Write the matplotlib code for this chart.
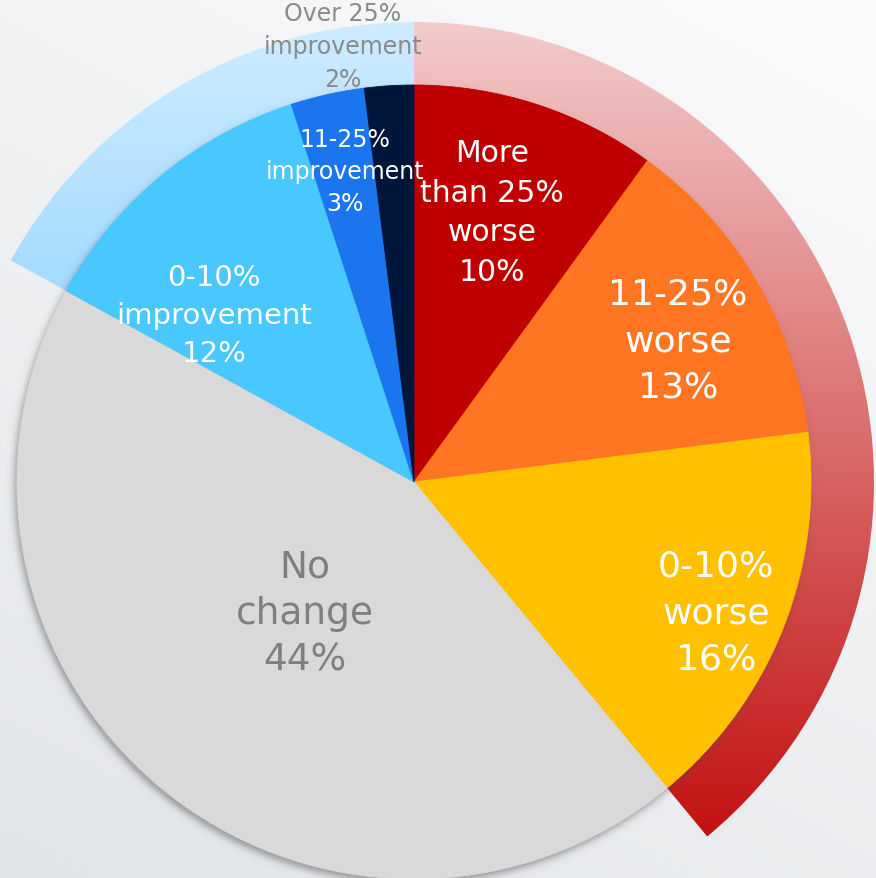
import numpy as np
import matplotlib
matplotlib.use("Agg")
import matplotlib.pyplot as plt
from matplotlib.patches import Wedge
from matplotlib.colors import LinearSegmentedColormap, to_rgb

# ---------- Data ----------
categories = [
    "More\nthan 25%\nworse",
    "11-25%\nworse",
    "0-10%\nworse",
    "No\nchange",
    "0-10%\nimprovement",
    "11-25%\nimprovement",
    "Over 25%\nimprovement",
]
shares = [10, 13, 16, 44, 12, 3, 2]
slice_colors = ["#C00000", "#FF7521", "#FFC000", "#D9D9D9",
                "#49C7FF", "#1A75EE", "#00153A"]
worse_idx = [0, 1, 2]
improve_idx = [4, 5, 6]

# ---------- Layout (pixel coordinates, y up) ----------
W, H = 876, 879
CX, CY = 414, H - 483
R_PIE = 397
R_RING = 460

fig = plt.figure(figsize=(W / 100, H / 100), dpi=100)
ax = fig.add_axes([0, 0, 1, 1])

# background wash
yy, xx = np.mgrid[0:H, 0:W]
t = 0.35 * (1 - xx / W) + 0.65 * (yy / H)
t = np.clip(t, 0, 1)[..., None]
c_top = np.array(to_rgb("#FBFBFC"))
c_bot = np.array(to_rgb("#E2E5E8"))
bg = c_top * (1 - t) + c_bot * t
ax.imshow(bg, extent=(0, W, 0, H), origin="upper", zorder=0)


def gradient_wedge(theta1, theta2, c1, c2, y1, y2):
    # wedge filled with a vertical gradient from c1 (at y1) to c2 (at y2),
    # the image spans the whole height so the clip never runs short
    w = Wedge((CX, CY), R_RING, theta1, theta2, facecolor="none",
              edgecolor="none")
    ax.add_patch(w)
    cmap = LinearSegmentedColormap.from_list("g", [c1, c2])
    rows = np.arange(H)
    grad = np.clip((rows - y1) / (y2 - y1), 0, 1)[:, None]
    im = ax.imshow(grad, cmap=cmap, aspect="auto", origin="upper",
                   extent=(0, W, 0, H), zorder=1, vmin=0, vmax=1)
    im.set_clip_path(w)


total = float(sum(shares))
worse_span = 360 * sum(shares[i] for i in worse_idx) / total
improve_span = 360 * sum(shares[i] for i in improve_idx) / total
gradient_wedge(90 - worse_span, 90, "#F3CCCC", "#C31010", 18, 842)
gradient_wedge(90, 90 + improve_span, "#CFECFF", "#A6DCFF", 18, 270)

# soft drop shadow under the pie
d = np.hypot(xx - (CX - 3), (H - yy) - (CY - 4))
alpha = 0.5 / (1 + np.exp((d - R_PIE) / 2.2))
shadow = np.zeros((H, W, 4))
shadow[..., :3] = 0.3
shadow[..., 3] = alpha
ax.imshow(shadow, extent=(0, W, 0, H), origin="upper", zorder=2)

wedges, _ = ax.pie(shares, colors=slice_colors, startangle=90,
                   counterclock=False, center=(CX, CY), radius=R_PIE,
                   wedgeprops=dict(linewidth=0.6))
for w, c in zip(wedges, slice_colors):
    w.set_edgecolor(c)
    w.set_zorder(3)

# ---------- Labels ----------
label_pos = [(492, 213), (678, 341), (716, 613), (305, 614),
             (214, 316), (345, 172), (343, 47)]
label_size = [21.5, 26, 26, 27, 21, 17, 17]
label_spacing = [1.47, 1.45, 1.45, 1.38, 1.46, 1.42, 1.47]
label_color = ["white", "white", "white", "#7F7F7F",
               "white", "white", "#8A8A8A"]

for cat, val, (lx, ly), fs, ls, col in zip(categories, shares, label_pos,
                                           label_size, label_spacing,
                                           label_color):
    ax.text(lx, H - ly, f"{cat}\n{val}%", ha="center", va="center",
            fontsize=fs, color=col, linespacing=ls, zorder=5,
            family="DejaVu Sans")

ax.set_xlim(0, W)
ax.set_ylim(0, H)
ax.set_aspect("auto")
ax.axis("off")

fig.savefig("out.png", dpi=100)
